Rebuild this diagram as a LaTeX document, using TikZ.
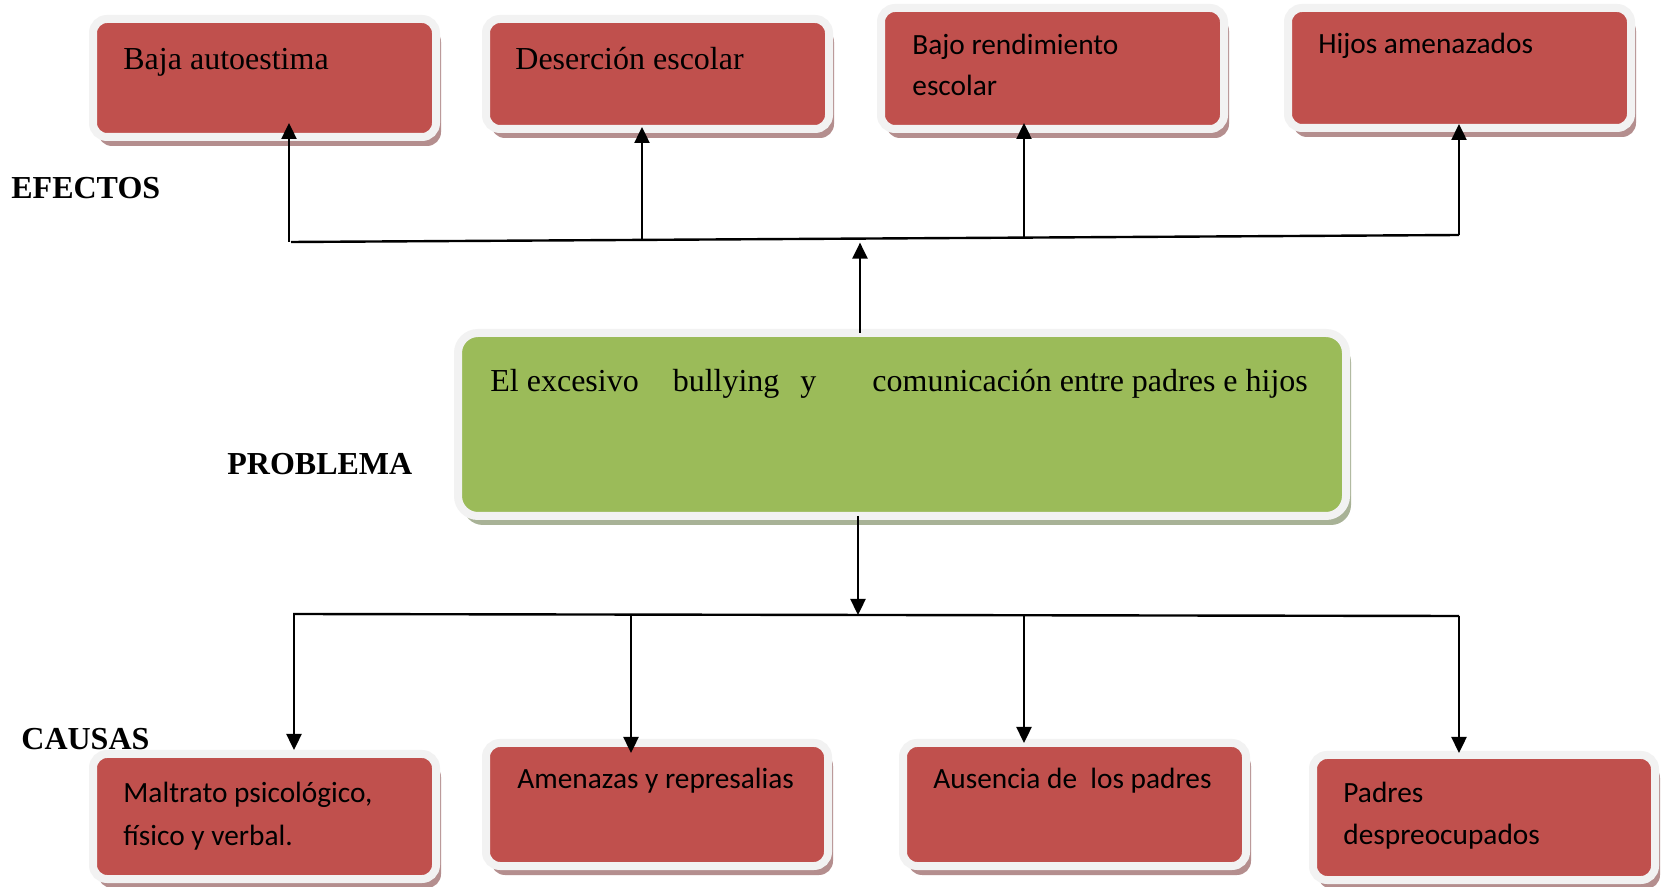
\documentclass[tikz,border=0pt]{standalone}
\usepackage{fontspec}
\setmainfont{Liberation Serif}
\newfontfamily\calibrifont{Carlito}
\usetikzlibrary{arrows.meta,shadows,fit}
\definecolor{boxred}{HTML}{C0504D}
\definecolor{boxgreen}{HTML}{9BBB59}
\definecolor{rim}{HTML}{F2F2F2}
\definecolor{redshadow}{RGB}{180,142,142}
\definecolor{greenshadow}{RGB}{168,178,150}
\begin{document}
\begin{tikzpicture}[x=0.5pt,y=-0.5pt,
  card/.style={rectangle, rounded corners=7pt, draw=rim, line width=4pt, inner sep=2pt, outer sep=0pt},
  redcard/.style={card, fill=boxred, drop shadow={shadow xshift=2.5pt, shadow yshift=-4.5pt, fill=redshadow, opacity=1}},
  greencard/.style={card, rounded corners=10pt, fill=boxgreen, drop shadow={shadow xshift=2.5pt, shadow yshift=-4.5pt, fill=greenshadow, opacity=1}},
  seriftext/.style={font=\fontsize{16}{19}\selectfont, inner sep=0pt, anchor=base west},
  sanstext/.style={font=\calibrifont\fontsize{14.67}{18}\selectfont, inner sep=0pt, anchor=base west},
  headtxt/.style={font=\bfseries\fontsize{16}{19}\selectfont, inner sep=0pt, anchor=base west},
  link/.style={line width=1.2pt},
  arr/.style={line width=1.2pt, -{Triangle[length=8pt,width=7.5pt]}}
]
\fill[white] (0,0) rectangle (1662,887);
\useasboundingbox (0,0) rectangle (1662,887);

% headings
\node[headtxt] (efectos) at (11,199) {EFECTOS};
\node[headtxt] (problema) at (227,475) {PROBLEMA};
\node[headtxt] (causas) at (21,750) {CAUSAS};

% boxes
\node[redcard, fit={(97,23) (432,133)}] (t1) {};
\node[redcard, fit={(490,23) (825,125)}] (t2) {};
\node[redcard, fit={(885,12) (1220,125)}] (t3) {};
\node[redcard, fit={(1292,12) (1627,124)}] (t4) {};
\node[greencard, fit={(462,337) (1342,512)}] (g) {};
\node[redcard, fit={(97,758) (432,875)}] (b1) {};
\node[redcard, fit={(490,747) (824,862)}] (b2) {};
\node[redcard, fit={(907,747) (1242,862)}] (b3) {};
\node[redcard, fit={(1317,759) (1651,876)}] (b4) {};

% texts
\node[seriftext] (t1txt) at (123,70) {Baja autoestima};
\node[seriftext] (t2txt) at (515,70) {Deserción escolar};
\node[sanstext] (t3a) at (912,55) {Bajo rendimiento};
\node[sanstext] (t3b) at (912,96) {escolar};
\node[sanstext] (t4txt) at (1318,54) {Hijos amenazados};
\node[seriftext] (gtxt) at (490,392) {El excesivo\hspace{17pt}bullying\hspace{10.5pt}y\hspace{28pt}comunicación entre padres e hijos};
\node[sanstext] (b1a) at (123,803) {Maltrato psicológico,};
\node[sanstext] (b1b) at (123,845) {físico y verbal.};
\node[sanstext] (b2txt) at (517,789) {Amenazas y represalias};
\node[sanstext] (b3txt) at (933,789) {Ausencia de~~los padres};
\node[sanstext] (b4a) at (1343,803) {Padres};
\node[sanstext] (b4b) at (1343,844) {despreocupados};

% effects connectors
\coordinate (hl) at (291,242);
\coordinate (hr) at (1459,235);
\draw[link] (hl) -- (hr);
\coordinate (j1) at (289,242);
\coordinate (j2) at (642,240);
\coordinate (j3) at (1024,237.5);
\coordinate (j4) at (1459,235);
\coordinate (j0) at (860,238.6);
\draw[arr, shorten >=-7pt] (j1) -- (j1 |- t1.south);
\draw[arr, shorten >=-1pt] (j2) -- (j2 |- t2.south);
\draw[arr, shorten >=-3pt] (j3) -- (j3 |- t3.south);
\draw[arr, shorten >=-2pt] (j4) -- (j4 |- t4.south);
\draw[arr, shorten >=2pt] (j0 |- g.north) -- (j0);

% causes connectors
\coordinate (kl) at (293,614);
\coordinate (kr) at (1459,616);
\draw[link] (kl) -- (kr);
\coordinate (k0) at (858,615);
\coordinate (k1) at (294,614);
\coordinate (k2) at (631,615);
\coordinate (k3) at (1024,615.5);
\coordinate (k4) at (1459,616);
\draw[arr] (g.south -| k0) -- (k0);
\draw[arr, shorten >=2pt] (k1) -- (k1 |- b1.north);
\draw[arr, shorten >=-5pt] (k2) -- (k2 |- b2.north);
\draw[arr] (k3) -- (k3 |- b3.north);
\draw[arr, shorten >=1pt] (k4) -- (k4 |- b4.north);
\end{tikzpicture}
\end{document}
